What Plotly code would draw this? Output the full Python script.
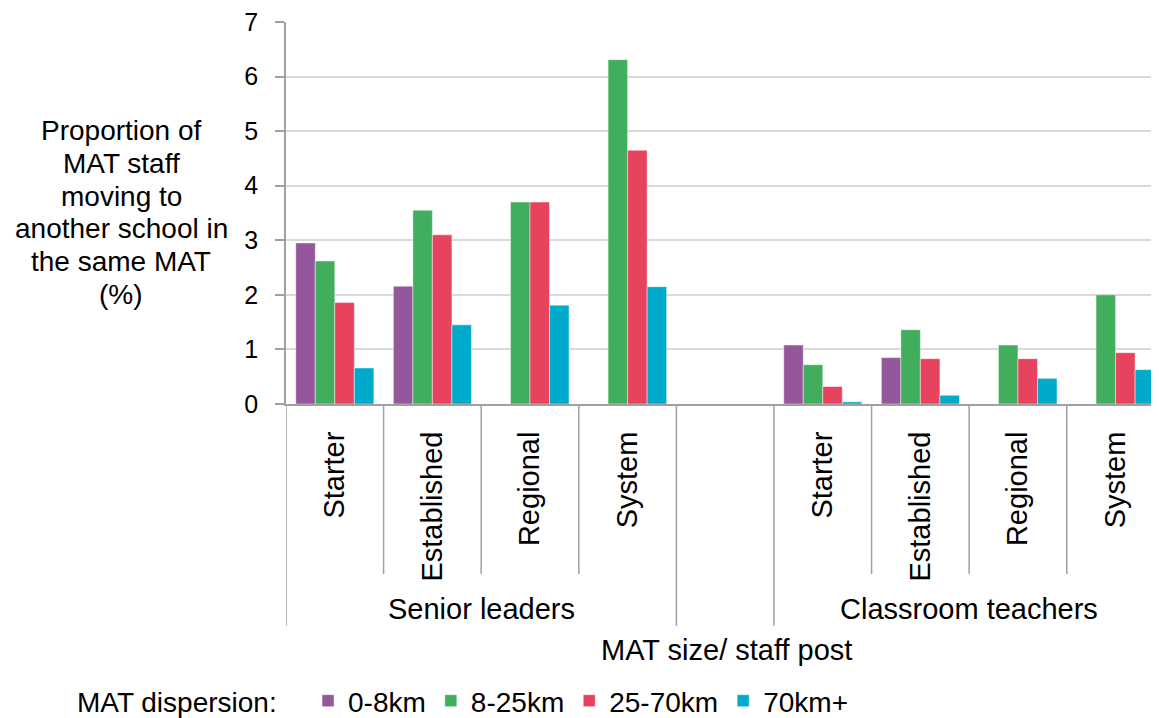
import plotly.graph_objects as go

# ---- data ----
categories = ["Starter", "Established", "Regional", "System", "",
              "Starter", "Established", "Regional", "System"]
group_labels = ["Senior leaders", "Classroom teachers"]
series_names = ["0-8km", "8-25km", "25-70km", "70km+"]
km_0_8 = [2.95, 2.16, None, None, None, 1.08, 0.85, None, None]
km_8_25 = [2.62, 3.55, 3.70, 6.31, None, 0.72, 1.36, 1.08, 2.00]
km_25_70 = [1.86, 3.10, 3.70, 4.65, None, 0.32, 0.83, 0.83, 0.94]
km_70_plus = [0.66, 1.45, 1.81, 2.15, None, 0.04, 0.16, 0.47, 0.63]
y_ticks = [0, 1, 2, 3, 4, 5, 6, 7]
y_title_lines = ["Proportion of", "MAT staff", "moving to",
                 "another school in", "the same MAT", "(%)"]

colors = ["#95579b", "#40ae5c", "#e8435e", "#00aacb"]
FONT = "Liberation Sans, Arial, sans-serif"
AXIS_GREY = "#a0a0a0"

# page has an 8px body margin; figure coords = page coords - 8
W, H = 1151, 710
ML, MT, MB = 278, 12, 314
plot_h = H - MT - MB
plot_w = W - ML
OFF = 8


def py(page_y):  # page y -> paper y
    return ((H - MB) - (page_y - OFF)) / plot_h


def px(page_x):  # page x -> paper x
    return ((page_x - OFF) - ML) / plot_w


x = list(range(len(categories)))
fig = go.Figure()
for name, vals, col in zip(series_names, [km_0_8, km_8_25, km_25_70, km_70_plus], colors):
    fig.add_trace(go.Bar(x=x, y=vals, name=name, marker_color=col,
                         marker_line=dict(color="rgba(255,255,255,0.45)", width=1)))

fig.update_layout(
    width=W, height=H,
    margin=dict(l=ML, r=0, t=MT, b=MB),
    paper_bgcolor="white", plot_bgcolor="white",
    barmode="group", bargap=0.2, bargroupgap=0,
    font=dict(family=FONT, size=28, color="black"),
    legend=dict(orientation="h", xref="container", yref="container",
                x=(75 - OFF) / W, y=1 - (676 - OFF) / H,
                xanchor="left", yanchor="top",
                title=dict(text="MAT dispersion:   ", side="left",
                           font=dict(size=28)),
                font=dict(size=28), itemwidth=30, traceorder="normal"),
    showlegend=True,
)

fig.update_xaxes(
    range=[-0.5, 8.445], tickmode="array", tickvals=x, ticktext=categories,
    tickangle=-90, ticks="", ticklabelstandoff=14,
    tickfont=dict(size=29, family=FONT),
    showline=True, linecolor=AXIS_GREY, linewidth=2, showgrid=False,
    zeroline=False,
)
fig.update_yaxes(
    range=[0, 7], tickmode="array", tickvals=y_ticks,
    ticks="outside", ticklen=9, tickcolor=AXIS_GREY, tickwidth=1.5,
    ticklabelstandoff=12, ticklabeloverflow="allow",
    tickfont=dict(size=25, family=FONT),
    showline=True, linecolor=AXIS_GREY, linewidth=1.5,
    showgrid=True, gridcolor="#d9d9d9", gridwidth=1.5, zeroline=False,
)

# divider lines under the category axis
gap_index = categories.index("")
n_inner = gap_index
boundaries = [i - 0.5 for i in range(len(categories) + 1)]
for b in boundaries:
    is_long = b in (-0.5, gap_index - 0.5, gap_index + 0.5)
    fig.add_shape(type="line", xref="x", yref="paper", x0=b, x1=b,
                  y0=0, y1=py(627) if is_long else py(575),
                  line=dict(color=AXIS_GREY, width=1.5), layer="above")

# group labels
group_centers = [(n_inner - 1) / 2, gap_index + 1 + (n_inner - 1) / 2]
for name, c in zip(group_labels, group_centers):
    fig.add_annotation(text=name, x=c, xref="x", y=py(610), yref="paper",
                       showarrow=False, font=dict(size=29, family=FONT),
                       xanchor="center", yanchor="middle")

# x axis title
fig.add_annotation(text="MAT size/ staff post", x=px(726), xref="paper",
                   y=py(651), yref="paper", showarrow=False,
                   font=dict(size=29, family=FONT), xanchor="center", yanchor="middle")

# y axis title (one annotation per line for exact spacing)
for i, line in enumerate(y_title_lines):
    fig.add_annotation(text=line, x=px(121), xref="paper",
                       y=py(129 + 33 * i), yref="paper", showarrow=False,
                       xanchor="center", yanchor="middle",
                       font=dict(size=28, family=FONT))

fig.write_html("out.html")
